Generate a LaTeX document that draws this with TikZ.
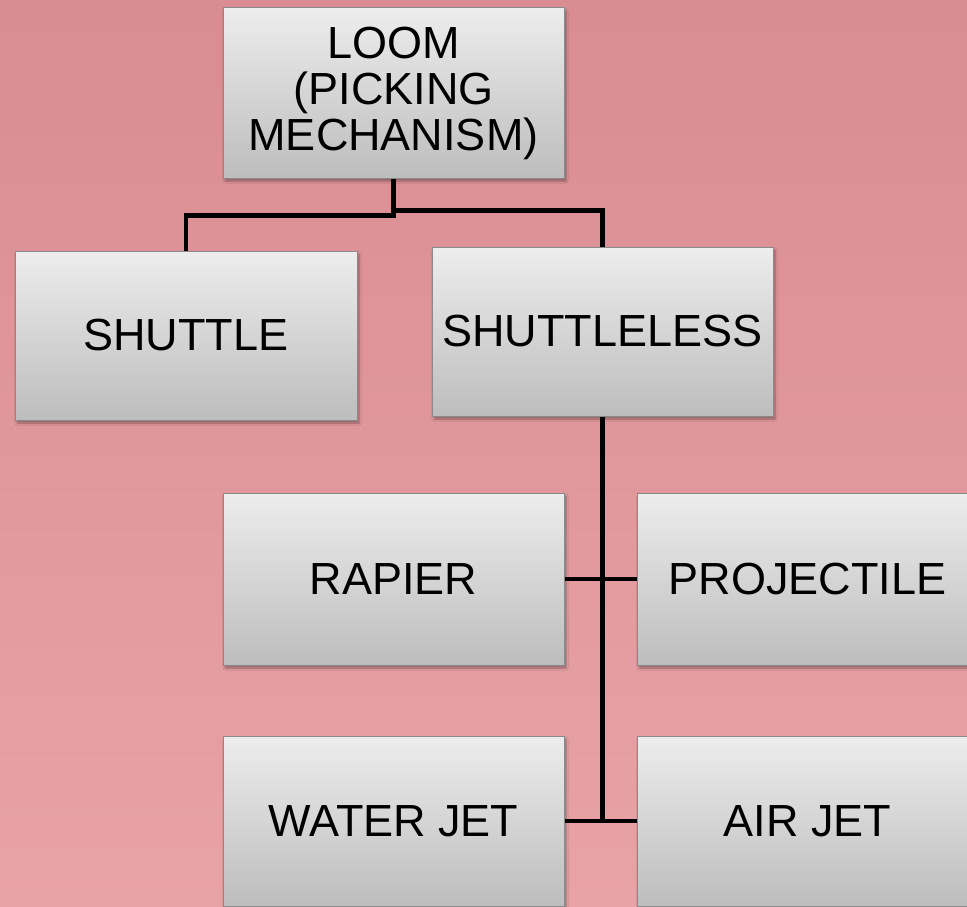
\documentclass[tikz,border=0pt]{standalone}
\usepackage{fontspec}
\setmainfont{Liberation Sans}
\usetikzlibrary{shadows.blur,calc}
\definecolor{bgtop}{HTML}{D98C92}
\definecolor{bgbot}{HTML}{E8A3A6}
\definecolor{boxtop}{HTML}{EDEDED}
\definecolor{boxbot}{HTML}{BDBDBD}
\definecolor{boxline}{HTML}{8A8A8A}
\tikzset{
  orgbox/.style={rectangle, draw=boxline, line width=1pt,
    top color=boxtop, bottom color=boxbot,
    minimum width=341pt, minimum height=170pt, inner sep=0pt,
    align=center, font=\fontsize{45}{46}\selectfont,
    blur shadow={shadow xshift=2pt, shadow yshift=-3pt, shadow opacity=35, shadow blur steps=6}},
  link/.style={line width=4.5pt, black}
}
\begin{document}
\begin{tikzpicture}[x=1pt,y=-1pt]
  \useasboundingbox (0,0) rectangle (967,907);
  \shade[top color=bgtop, bottom color=bgbot] (0,0) rectangle (967,907);
  \node[orgbox] (loom) at (393.5,93) {LOOM\\(PICKING\\MECHANISM)};
  \node[orgbox, minimum width=342pt, minimum height=169pt] (shuttle) at (186,335.5) {SHUTTLE};
  \node[orgbox, minimum height=169pt] (shuttleless) at (602.5,331.5) {SHUTTLELESS};
  \node[orgbox, minimum height=172pt] (rapier) at (393.5,579) {RAPIER};
  \node[orgbox, minimum height=172pt] (projectile) at (807.5,579) {PROJECTILE};
  \node[orgbox] (waterjet) at (393.5,821) {WATER JET};
  \node[orgbox] (airjet) at (807.5,821) {AIR JET};
  \coordinate (jl) at ($(loom.south)+(0,37)$);
  \coordinate (jr) at ($(loom.south)+(0,32)$);
  \draw[link] (loom.south) -- (jl) -| (shuttle.north);
  \draw[link] (jr) -| (shuttleless.north);
  \draw[link] (shuttleless.south) -- (shuttleless.south |- waterjet.east);
  \draw[link] (rapier.east) -- (projectile.west);
  \draw[link] (waterjet.east) -- (airjet.west);
\end{tikzpicture}
\end{document}
